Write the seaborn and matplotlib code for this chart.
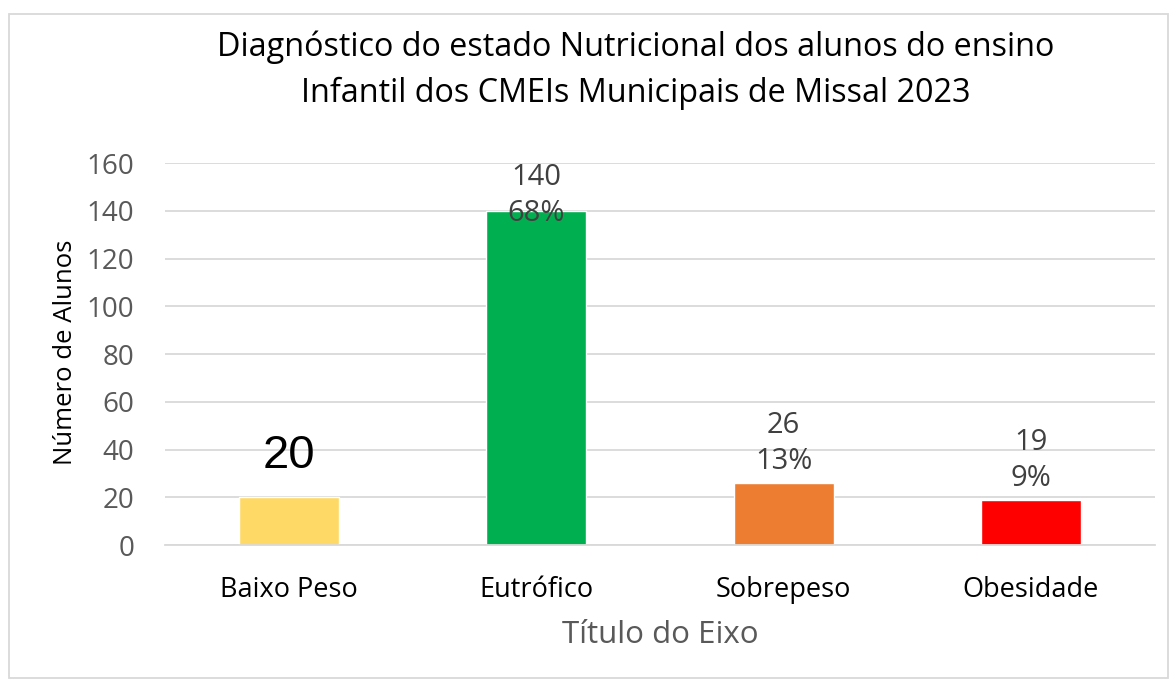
import matplotlib
matplotlib.use("Agg")
import matplotlib.pyplot as plt
import seaborn as sns
import pandas as pd
from matplotlib.patches import Rectangle

categorias = ["Baixo Peso", "Eutrófico", "Sobrepeso", "Obesidade"]
alunos = [20, 140, 26, 19]
percentuais = [None, "68%", "13%", "9%"]
cores = ["#FFD966", "#00B050", "#ED7D31", "#FF0000"]

titulo = "Diagnóstico do estado Nutricional dos alunos do ensino\nInfantil dos CMEIs Municipais de Missal 2023"

sns.set_theme(style="white")
plt.rcParams["font.family"] = ["Open Sans", "DejaVu Sans"]

df = pd.DataFrame({"categoria": categorias, "alunos": alunos})

fig = plt.figure(figsize=(11.71, 6.8), dpi=100)
ax = fig.add_axes([0.141, 0.1985, 0.845, 0.5615])

sns.barplot(data=df, x="categoria", y="alunos", hue="categoria",
            palette=cores, legend=False, width=0.404, saturation=1, ax=ax)

ax.set_ylim(0, 160)
ax.set_xlim(-0.5, len(categorias) - 0.5)
ax.set_yticks(range(0, 161, 20))
ax.yaxis.grid(True, color="#D9D9D9", linewidth=1.3)
ax.set_axisbelow(True)
for s in ["top", "right", "left"]:
    ax.spines[s].set_visible(False)
ax.spines["bottom"].set_color("#D9D9D9")
ax.spines["bottom"].set_linewidth(1.3)
ax.tick_params(axis="both", length=0)
ax.tick_params(axis="y", labelsize=20, labelcolor="#595959", pad=22)
ax.tick_params(axis="x", labelsize=19.5, labelcolor="black", pad=22)

ax.set_xlabel("Título do Eixo", fontsize=22.5, color="#595959")
ax.set_ylabel("Número de Alunos", fontsize=18.5, color="black")
ax.xaxis.set_label_coords(0.5, -0.236)
ax.yaxis.set_label_coords(-0.101, 0.505)
ax.xaxis.label.set_va("center")
ax.yaxis.label.set_va("center")

# rótulos de dados
for i, (v, p) in enumerate(zip(alunos, percentuais)):
    if p is None:
        ax.annotate(str(v), xy=(i, v), xytext=(0, 14), textcoords="offset points",
                    ha="center", va="bottom", fontsize=34, color="black",
                    family="Liberation Sans")
    elif v > 0.8 * ax.get_ylim()[1]:
        ax.annotate(f"{v}\n{p}", xy=(i, ax.get_ylim()[1]), xytext=(0, 0),
                    textcoords="offset points", ha="center", va="top",
                    fontsize=21, color="#404040", linespacing=1.3)
    else:
        ax.annotate(f"{v}\n{p}", xy=(i, v), xytext=(0, 5), textcoords="offset points",
                    ha="center", va="bottom", fontsize=21, color="#404040",
                    linespacing=1.3)

fig.text(0.543, 0.897, titulo, ha="center", va="center", fontsize=23.3,
         color="black", linespacing=1.5)

fig.patches.append(Rectangle((9 / 1171, 2 / 680), 1159 / 1171, 664 / 680,
                             transform=fig.transFigure, fill=False,
                             edgecolor="#D9D9D9", linewidth=1.3))

fig.savefig("out.png", dpi=100)
